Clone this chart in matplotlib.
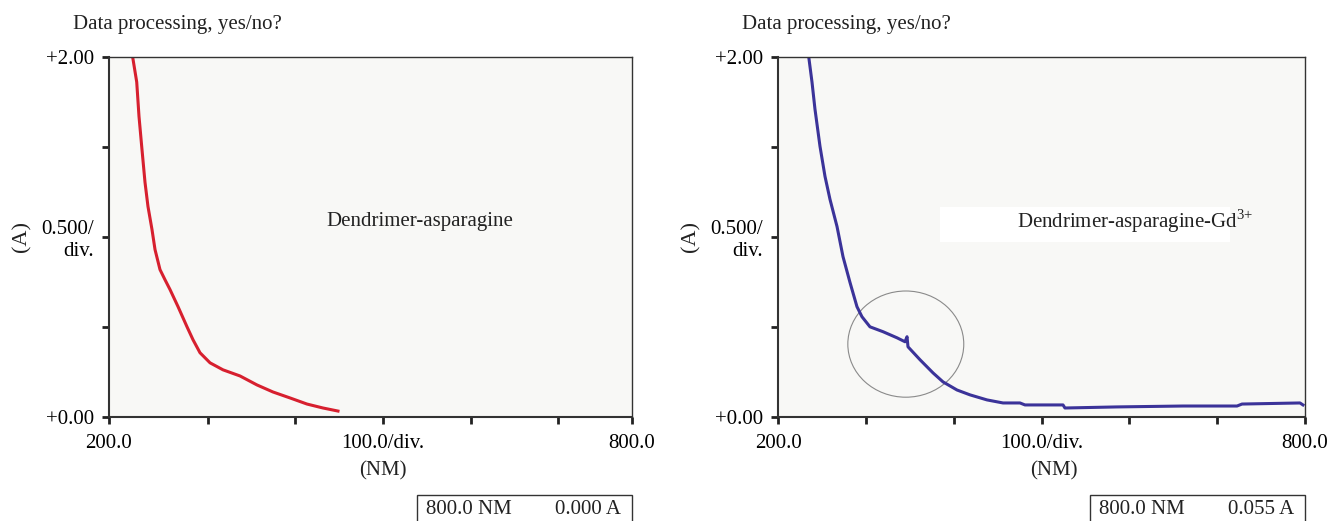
import numpy as np
import matplotlib
matplotlib.use("Agg")
import matplotlib.pyplot as plt
from matplotlib.patches import Ellipse, Rectangle

plt.rcParams['font.family'] = ['Liberation Serif', 'DejaVu Serif']
plt.rcParams['mathtext.fontset'] = 'custom'
plt.rcParams['mathtext.rm'] = 'Liberation Serif'

# left panel: dendrimer-asparagine (wavelength nm, absorbance A)
nm_left = [227.5, 231.8, 234.4, 237.5, 241.3, 244.7, 249.3, 252.8, 258.5, 264.2,
           270.0, 279.2, 289.5, 296.4, 304.4, 315.9, 330.8, 350.3, 369.8, 388.1,
           407.6, 427.1, 445.5, 462.7]
abs_left = [1.989, 1.861, 1.671, 1.504, 1.304, 1.170, 1.042, 0.930, 0.819, 0.763,
            0.708, 0.613, 0.501, 0.429, 0.357, 0.301, 0.262, 0.228, 0.178, 0.139,
            0.106, 0.072, 0.050, 0.033]

# right panel: dendrimer-asparagine-Gd3+
nm_right = [235.3, 238.7, 242.1, 247.8, 253.5, 259.2, 267.2, 274.0, 282.0, 289.9,
            295.6, 304.7, 319.5, 335.5, 344.6, 346.9, 348.0, 361.7, 376.5, 387.9,
            403.8, 418.6, 437.9, 456.2, 475.5, 481.2, 524.5, 526.7, 586.0, 661.1,
            722.6, 728.3, 794.3, 797.7]
abs_right = [1.989, 1.861, 1.710, 1.504, 1.337, 1.209, 1.058, 0.891, 0.747, 0.613,
             0.557, 0.501, 0.474, 0.440, 0.418, 0.446, 0.390, 0.318, 0.245, 0.195,
             0.150, 0.123, 0.095, 0.078, 0.078, 0.067, 0.067, 0.050, 0.056, 0.061,
             0.061, 0.072, 0.078, 0.067]

left_xticks = [200, 313.6, 413.4, 514.3, 615.3, 715.1, 800]
right_xticks = [200, 300, 400, 500, 600, 700, 800]
xtick_labels = ['200.0', '', '', '100.0/div.', '', '', '800.0']
yticks = [0, 0.5, 1.0, 1.5, 2.0]
ytick_labels = ['+0.00', '', '0.500/\ndiv.', '', '+2.00']

fig = plt.figure(figsize=(13.31, 5.21), dpi=100)
ax1 = fig.add_axes([109/1331, 104/521, 523/1331, 360/521])
ax2 = fig.add_axes([778/1331, 104/521, 527/1331, 360/521])

fs = 15
tc = '#222222'


def setup(ax, xticks, reading):
    w = ax.get_position().width * 1331
    ax.set_facecolor('#f8f8f6')
    ax.set_xlim(200, 800)
    ax.set_ylim(0, 2.0)
    ax.set_xticks(xticks)
    ax.set_xticklabels(xtick_labels, fontsize=fs)
    ax.set_yticks(yticks)
    ax.set_yticklabels(ytick_labels, fontsize=fs, ha='right')
    ax.tick_params(axis='both', length=5, width=2, color=tc, pad=6)
    ax.tick_params(axis='x', pad=7)
    for s in ax.spines.values():
        s.set_color('#333333')
        s.set_linewidth(1.0)
    ax.spines['left'].set_linewidth(1.5)
    ax.spines['bottom'].set_linewidth(1.5)
    ax.text(-36/w, 1 + 33/360, 'Data processing, yes/no?', transform=ax.transAxes,
            fontsize=fs, ha='left', va='center', color=tc)
    ax.text(-87/w, 0.5, '(A)', transform=ax.transAxes, rotation=90,
            fontsize=fs + 1, ha='center', va='center', color=tc)
    ax.text(0.523, -54/360, '(NM)', transform=ax.transAxes,
            fontsize=fs, ha='center', va='center', color=tc)
    # readout box under the plot
    ax.add_patch(Rectangle((1 - 215/w, -0.30), 215/w, 0.30 - 78/360,
                           transform=ax.transAxes, fill=False, lw=1.0,
                           ec='#333333', clip_on=False))
    ax.text(1 - 206/w, -93/360, '800.0 NM', transform=ax.transAxes,
            fontsize=fs, ha='left', va='center', color=tc)
    ax.text(1 - 11/w, -93/360, reading, transform=ax.transAxes,
            fontsize=fs, ha='right', va='center', color=tc)


setup(ax1, left_xticks, '0.000 A')
setup(ax2, right_xticks, '0.055 A')

ax1.plot(nm_left, abs_left, color='#d7202f', lw=2.2)
ax1.text(0.595, 0.543, 'Dendrimer-asparagine', transform=ax1.transAxes,
         fontsize=fs, ha='center', va='center', color=tc)

ax2.add_patch(Rectangle((0.307, 0.485), 0.551, 0.097, transform=ax2.transAxes,
                        fc='white', ec='none', zorder=0.5))
ax2.plot(nm_right, abs_right, color='#3b3399', lw=2.2)
ax2.add_patch(Ellipse((345.5, 0.405), 132, 0.59, fill=False,
                      ec='#8a8a8a', lw=0.8))
ax2.text(0.677, 0.543, 'Dendrimer-asparagine-Gd$^{3{+}}$', transform=ax2.transAxes,
         fontsize=fs, ha='center', va='center', color=tc)

fig.savefig('out.png', dpi=100, facecolor='white')
